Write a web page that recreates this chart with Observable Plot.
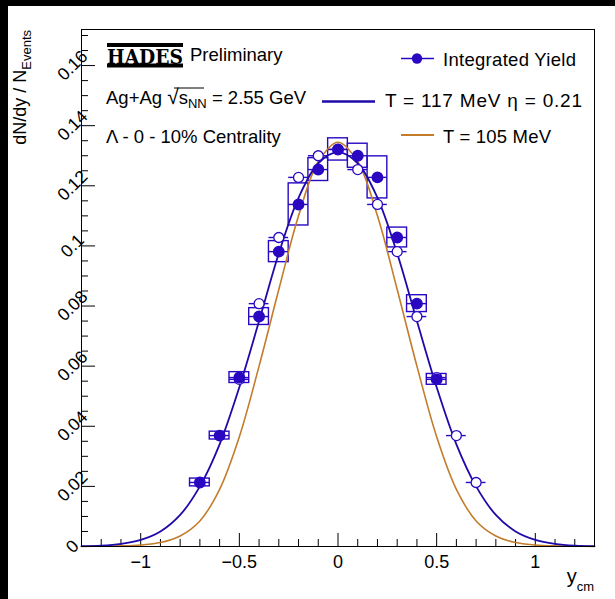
<!DOCTYPE html>
<html><head><meta charset="utf-8">
<script src="https://cdn.jsdelivr.net/npm/d3@7"></script>
<script src="https://cdn.jsdelivr.net/npm/@observablehq/plot@0.6"></script>
<style>
html,body{margin:0;padding:0;background:#000;width:615px;height:599px;overflow:hidden}
#chart{position:absolute;left:8px;top:6px;width:607px;height:593px;background:#fff}
</style></head><body><div id="chart"></div>
<script>
// ---- data ----
const measuredX = [-0.7,-0.6,-0.5,-0.4,-0.3,-0.2,-0.1,0,0.1,0.2,0.3,0.4,0.5];
const measuredY = [0.0213,0.0369,0.0562,0.0765,0.0981,0.1138,0.1254,0.1321,0.1300,0.1228,0.1028,0.0808,0.0556];
const measuredSys = [0.0013,0.0013,0.0018,0.0028,0.0035,0.0070,0.0038,0.0037,0.0040,0.0070,0.0033,0.0028,0.0018];
const binHalfWidth = [0.05];
const reflectedX = [-0.5,-0.4,-0.3,-0.2,-0.1,0,0.1,0.2,0.3,0.4,0.5,0.6,0.7];
const reflectedY = [0.0556,0.0808,0.1028,0.1228,0.1300,0.1321,0.1254,0.1138,0.0981,0.0765,0.0562,0.0369,0.0213];
const curveX = [-1.3,-1.2,-1.1,-1.0,-0.9,-0.8,-0.7,-0.6,-0.5,-0.4,-0.3,-0.2,-0.1,0,0.1,0.2,0.3,0.4,0.5,0.6,0.7,0.8,0.9,1.0,1.1,1.2,1.3];
const fit117 = [0.0001,0.0003,0.0009,0.0022,0.0050,0.0105,0.0200,0.0340,0.0530,0.0750,0.0975,0.1160,0.1275,0.1312,0.1275,0.1160,0.0975,0.0750,0.0530,0.0340,0.0200,0.0105,0.0050,0.0022,0.0009,0.0003,0.0001];
const fit105 = [0.0000,0.0001,0.0002,0.0005,0.0013,0.0035,0.0085,0.0190,0.0365,0.0600,0.0855,0.1100,0.1280,0.1345,0.1280,0.1100,0.0855,0.0600,0.0365,0.0190,0.0085,0.0035,0.0013,0.0005,0.0002,0.0001,0.0000];
const xMajorTicks = [-1,-0.5,0,0.5,1];
const xMinorTicks = [-1.2,-1.1,-0.9,-0.8,-0.7,-0.6,-0.4,-0.3,-0.2,-0.1,0.1,0.2,0.3,0.4,0.6,0.7,0.8,0.9,1.1,1.2];
const yMajorTicks = [0,0.02,0.04,0.06,0.08,0.1,0.12,0.14,0.16];
const yMinorTicks = [0.005,0.01,0.015,0.025,0.03,0.035,0.045,0.05,0.055,0.065,0.07,0.075,0.085,0.09,0.095,0.105,0.11,0.115,0.125,0.13,0.135,0.145,0.15,0.155,0.165,0.17];

// ---- tables built from the arrays ----
const measured = measuredX.map((x,i)=>({x, y: measuredY[i], sys: measuredSys[i], h: binHalfWidth[0]}));
const reflected = reflectedX.map((x,i)=>({x, y: reflectedY[i], h: binHalfWidth[0]}));
const curves = curveX.map((x,i)=>({x, a: fit117[i], b: fit105[i]}));

const W = 607, H = 593, mL = 73, mR = 21, mT = 23, mB = 53;
const innerW = W - mL - mR, innerH = H - mT - mB;
const BLUE = "#2a08c2", CURVE = "#1e0aa8", ORANGE = "#c27c2a";
const fmt = d => (d < 0 ? "\u2212" : "") + String(+Math.abs(d).toFixed(3));

const plot = Plot.plot({
  width: W, height: H,
  marginLeft: mL, marginRight: mR, marginTop: mT, marginBottom: mB,
  style: {fontFamily: "'Liberation Sans', Arial, sans-serif", background: "#fff", color: "#000"},
  x: {domain: [-1.3, 1.3]},
  y: {domain: [0, 0.172]},
  marks: [
    Plot.tickX(xMajorTicks, {x: d=>d, insetTop: innerH - 13, stroke: "#000"}),
    Plot.tickX(xMinorTicks, {x: d=>d, insetTop: innerH - 7, stroke: "#000"}),
    Plot.tickY(yMajorTicks, {y: d=>d, insetRight: innerW - 14, stroke: "#000"}),
    Plot.tickY(yMinorTicks, {y: d=>d, insetRight: innerW - 7, stroke: "#000"}),
    Plot.axisX({ticks: xMajorTicks, tickSize: 0, tickPadding: 9, fontSize: 18, tickFormat: fmt, label: null}),
    Plot.axisY({ticks: yMajorTicks, tickSize: 0, tickPadding: 9, tickRotate: -45, textAnchor: "middle", fontSize: 17.5, tickFormat: fmt, label: null}),
    // systematic boxes
    Plot.rect(measured, {x1: d=>d.x-d.h, x2: d=>d.x+d.h, y1: d=>d.y-d.sys, y2: d=>d.y+d.sys, fill: "none", stroke: BLUE, strokeWidth: 1.4}),
    // horizontal bin bars
    Plot.ruleY(measured, {y: "y", x1: d=>d.x-d.h, x2: d=>d.x+d.h, stroke: BLUE, strokeWidth: 1.4}),
    Plot.ruleY(reflected, {y: "y", x1: d=>d.x-d.h, x2: d=>d.x+d.h, stroke: BLUE, strokeWidth: 1.4}),
    // fits
    Plot.line(curves, {x: "x", y: "b", stroke: ORANGE, strokeWidth: 1.6, curve: "catmull-rom"}),
    Plot.line(curves, {x: "x", y: "a", stroke: CURVE, strokeWidth: 1.8, curve: "catmull-rom"}),
    // points
    Plot.dot(reflected, {x: "x", y: "y", r: 5, fill: "#fff", stroke: BLUE, strokeWidth: 1.3}),
    Plot.dot(measured, {x: "x", y: "y", r: 5.2, fill: BLUE, stroke: BLUE}),
    Plot.frame({stroke: "#000", strokeWidth: 1})
  ]
});
document.getElementById("chart").appendChild(plot);

// ---- annotations (page coords minus wrapper offset 8,6) ----
const svg = d3.select(plot);
const ox = 8, oy = 6;
const ff = "'Liberation Sans', Arial, sans-serif";
const g = svg.append("g").attr("font-family", ff).attr("fill", "#000").attr("text-anchor", "start");

// HADES logo
g.append("rect").attr("x", 107-ox).attr("y", 43-oy).attr("width", 76).attr("height", 4).attr("fill", "#000");
g.append("rect").attr("x", 107-ox).attr("y", 63.5-oy).attr("width", 76).attr("height", 4).attr("fill", "#000");
g.append("text").attr("x", 107-ox).attr("y", 63.5-oy).attr("font-family", "'DejaVu Serif', serif").attr("font-weight", 900)
  .attr("font-size", 21).attr("textLength", 76).attr("lengthAdjust", "spacingAndGlyphs").text("HADES");
g.append("text").attr("x", 190-ox).attr("y", 61-oy).attr("font-size", 18.5).text("Preliminary");

// collision system
const t2 = g.append("text").attr("x", 106-ox).attr("y", 104-oy).attr("font-size", 18.5);
t2.append("tspan").text("Ag+Ag ");
t2.append("tspan").attr("font-size", 21).text("\u221A");
t2.append("tspan").text("s");
t2.append("tspan").attr("font-size", 13).attr("dy", 4).text("NN");
t2.append("tspan").attr("dy", -4).text(" = 2.55 GeV");
// overline for sqrt
g.append("line").attr("x1", 174-ox).attr("x2", 204-ox).attr("y1", 88-oy).attr("y2", 88-oy).attr("stroke", "#000").attr("stroke-width", 1);

g.append("text").attr("x", 106-ox).attr("y", 143-oy).attr("font-size", 18.5).text("\u039B - 0 - 10% Centrality");

// legend
g.append("line").attr("x1", 401-ox).attr("x2", 434-ox).attr("y1", 58.5-oy).attr("y2", 58.5-oy).attr("stroke", BLUE).attr("stroke-width", 1.6);
g.append("circle").attr("cx", 417-ox).attr("cy", 58.5-oy).attr("r", 5.2).attr("fill", BLUE);
g.append("text").attr("x", 443-ox).attr("y", 66-oy).attr("font-size", 18.5).attr("textLength", 133).attr("lengthAdjust", "spacing").text("Integrated Yield");

g.append("line").attr("x1", 322-ox).attr("x2", 375-ox).attr("y1", 101.5-oy).attr("y2", 101.5-oy).attr("stroke", CURVE).attr("stroke-width", 2.6);
g.append("text").attr("x", 385-ox).attr("y", 107-oy).attr("font-size", 19).attr("textLength", 197).attr("lengthAdjust", "spacing").text("T = 117 MeV \u03B7 = 0.21");

g.append("line").attr("x1", 401-ox).attr("x2", 434-ox).attr("y1", 135-oy).attr("y2", 135-oy).attr("stroke", ORANGE).attr("stroke-width", 2);
g.append("text").attr("x", 443-ox).attr("y", 143-oy).attr("font-size", 18.5).attr("textLength", 108).attr("lengthAdjust", "spacing").text("T = 105 MeV");

// axis titles
const yt = g.append("text").attr("transform", `translate(${26-ox},${30-oy}) rotate(-90)`).attr("text-anchor", "end").attr("font-size", 18);
yt.append("tspan").text("dN/dy / N");
yt.append("tspan").attr("font-size", 13).attr("dy", 5).text("Events");

const xt = g.append("text").attr("x", 594-ox).attr("y", 583-oy).attr("text-anchor", "end").attr("font-size", 20);
xt.append("tspan").text("y");
xt.append("tspan").attr("font-size", 13).attr("dy", 8).text("cm");
</script>
</body></html>
